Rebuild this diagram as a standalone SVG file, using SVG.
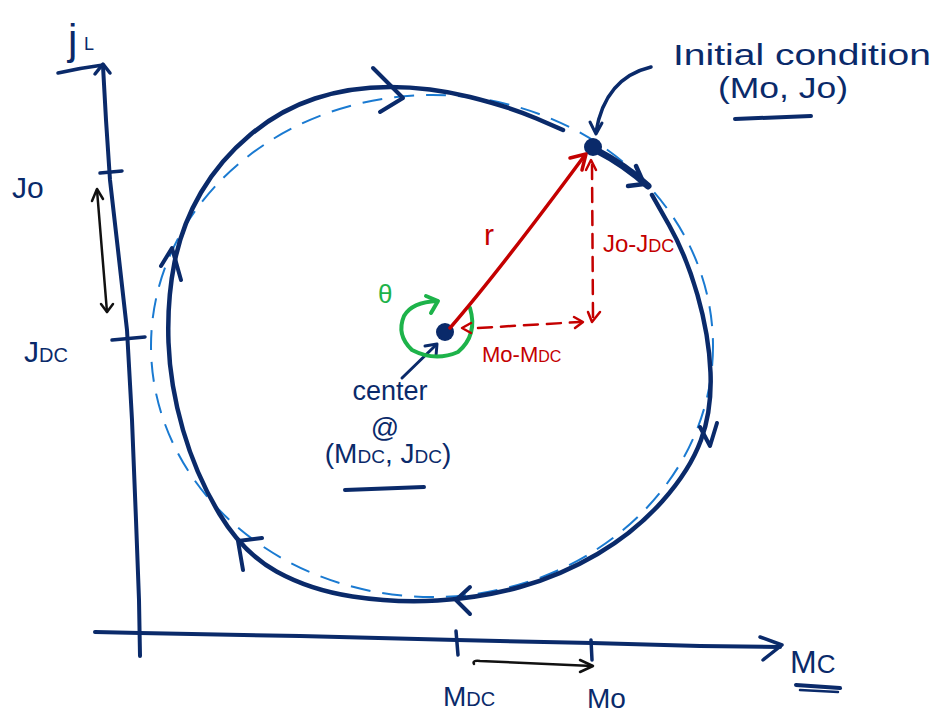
<svg xmlns="http://www.w3.org/2000/svg" width="942" height="719" viewBox="0 0 942 719">
<defs>
<style>
.nv{fill:none;stroke:#0a2a6a;stroke-linecap:round;stroke-linejoin:round}
.rd{fill:none;stroke:#c40000;stroke-linecap:round;stroke-linejoin:round}
.gr{fill:none;stroke:#1db34a;stroke-linecap:round;stroke-linejoin:round}
.bk{fill:none;stroke:#111111;stroke-linecap:round;stroke-linejoin:round;stroke-width:2.5}
.t{font-family:"Liberation Sans","DejaVu Sans",sans-serif}
.tn{fill:#0a2a6a}
.tr{fill:#c40000}
.tg{fill:#1db34a}
</style>
</defs>
<rect width="942" height="719" fill="#ffffff"/>

<g id="axes">
<polyline class="nv" stroke-width="4" points="103,66 106,120 110,180 118,250 127,330 132,420 136,520 139,600 140,656"/>
<polyline class="nv" stroke-width="3.5" points="95,74 103,64 110,73"/>
<path class="nv" stroke-width="3.5" d="M58,73 Q80,68 103,65"/>
<polyline class="nv" stroke-width="4" points="95,632 140,633 300,636 457,640 592,643 700,646 780,647"/>
<polyline class="nv" stroke-width="3.5" points="760,637 782,645 763,660"/>
<line class="nv" stroke-width="3.5" x1="100" y1="173" x2="122" y2="171"/>
<line class="nv" stroke-width="3.5" x1="112" y1="340" x2="145" y2="337"/>
<line class="nv" stroke-width="3.5" x1="456" y1="631" x2="458" y2="655"/>
<line class="nv" stroke-width="3.5" x1="591" y1="640" x2="592" y2="660"/>
</g>

<g id="axis-labels">
<text class="t tn" x="68" y="54" font-size="42">j</text>
<text class="t tn" x="84" y="50" font-size="18">L</text>
<text class="t tn" x="12" y="198" font-size="30">Jo</text>
<text class="t tn" x="24" y="362" font-size="30">J<tspan font-size="20">DC</tspan></text>
<text class="t tn" x="443" y="706" font-size="28">M<tspan font-size="20">DC</tspan></text>
<text class="t tn" x="587" y="708" font-size="28">Mo</text>
<text class="t tn" x="790" y="673" font-size="32">M<tspan font-size="26">C</tspan></text>
<line class="nv" stroke-width="4" x1="796" y1="685" x2="840" y2="688"/>
<line class="nv" stroke-width="2.5" x1="800" y1="690" x2="838" y2="692"/>
</g>

<g id="ranges">
<line class="bk" x1="97" y1="190" x2="107" y2="312"/>
<polyline class="bk" points="92,201 97,189 103,199"/>
<polyline class="bk" points="101,304 107,312 113,304"/>
<path class="bk" d="M474,664 Q472,660 480,661 L592,666"/>
<polyline class="bk" points="580,660 593,666 580,672"/>
</g>

<g id="reference-orbit">
<ellipse cx="432" cy="346" rx="281" ry="251" fill="none" stroke="#1a7ad1" stroke-width="2" stroke-dasharray="20 12"/>
</g>

<g id="trajectory">
<path class="nv" stroke-width="4.5" d="M563,130 L536.5,118.5 Q510,107 470,97 Q430,87 390,87 Q350,87 315,98.5 Q280,110 250,135 Q220,160 201,192.5 Q182,225 174.5,262.5 Q167,300 168.5,342.5 Q170,385 183,430 Q196,475 219.5,514 Q243,553 276.5,571.5 Q310,590 352.5,596.5 Q395,603 437.5,600.5 Q480,598 520,587 Q560,576 597.5,554 Q635,532 662.5,501 Q690,470 701,440 Q712,410 710.5,372.5 Q709,335 697.5,295 Q686,255 669,225 L652,195"/>
<path class="nv" stroke-width="7" d="M596,150 Q625,165 648,186"/>
<polyline class="nv" stroke-width="4.5" points="636,166 644,184 628,186"/>
<polyline class="nv" stroke-width="4" points="373,68 403,98 380,112"/>
<polyline class="nv" stroke-width="4" points="700,427 710,446 717,423"/>
<polyline class="nv" stroke-width="4" points="470,587 456,600 470,614"/>
<polyline class="nv" stroke-width="4" points="262,538 238,541 243,570"/>
<polyline class="nv" stroke-width="4" points="161,266 172,248 181,280"/>
</g>

<g id="initial-condition">
<circle cx="593" cy="147" r="9" fill="#0a2a6a"/>
<path class="nv" stroke-width="3.5" d="M651,67 Q605,78 596,132"/>
<polyline class="nv" stroke-width="3" points="590,122 596,134 602,123"/>
<text class="t tn" x="673" y="65" font-size="30" textLength="258" lengthAdjust="spacingAndGlyphs">Initial condition</text>
<text class="t tn" x="718" y="98" font-size="30" textLength="130" lengthAdjust="spacingAndGlyphs">(Mo, Jo)</text>
<line class="nv" stroke-width="4" x1="735" y1="119" x2="811" y2="116"/>
</g>

<g id="center">
<circle cx="445" cy="332" r="9" fill="#0a2a6a"/>
<line class="nv" stroke-width="3" x1="402" y1="378" x2="436" y2="345"/>
<polyline class="nv" stroke-width="3" points="425,346 437,344 436,356"/>
<text class="t tn" x="390" y="400" font-size="27" text-anchor="middle">center</text>
<text class="t tn" x="385" y="437" font-size="28" text-anchor="middle">@</text>
<text class="t tn" x="388" y="463" font-size="28" text-anchor="middle">(M<tspan font-size="19">DC</tspan>, J<tspan font-size="19">DC</tspan>)</text>
<path class="nv" stroke-width="4" d="M345,490 L424,487"/>
</g>

<g id="angle">
<path class="gr" stroke-width="4" d="M470,308 Q478,335 458,352 Q435,362 412,350 Q396,335 404,316 Q412,302 437,301"/>
<polyline class="gr" stroke-width="4" points="426,296 438,301 431,313"/>
<text class="t tg" x="378" y="303" font-size="26">θ</text>
</g>

<g id="connectors">
<path class="rd" stroke-width="3.5" d="M450,328 Q500,270 585,155"/>
<polyline class="rd" stroke-width="3.5" points="570,158 586,154 582,170"/>
<line class="rd" stroke-width="2.5" stroke-dasharray="14 9" x1="592" y1="165" x2="593" y2="318"/>
<polyline class="rd" stroke-width="2.5" points="586,170 591,160 596,170"/>
<line class="rd" stroke-width="2.5" stroke-dasharray="14 9" x1="478" y1="328" x2="580" y2="322"/>
<polyline class="rd" stroke-width="2.5" points="574,317 583,322 575,328"/>
<polyline class="rd" stroke-width="2.5" points="588,312 592,322 600,312"/>
<polyline class="rd" stroke-width="2.5" points="471,323 462,328 471,333"/>
<text class="t tr" x="484" y="245" font-size="30">r</text>
<text class="t tr" x="603" y="252" font-size="24">Jo-J<tspan font-size="18">DC</tspan></text>
<text class="t tr" x="482" y="362" font-size="22">Mo-M<tspan font-size="16">DC</tspan></text>
</g>
</svg>
